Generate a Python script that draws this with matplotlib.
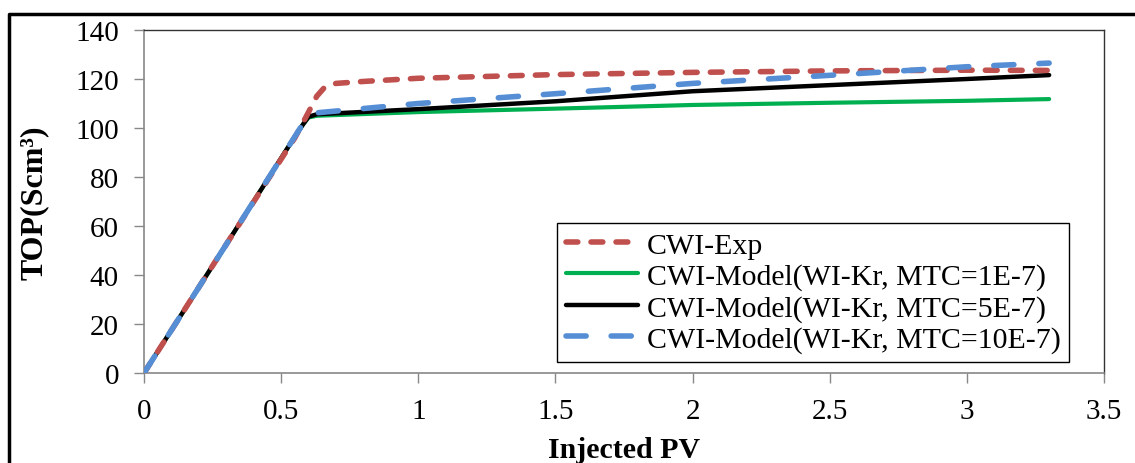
import matplotlib
matplotlib.use("Agg")
import matplotlib.pyplot as plt
from matplotlib.lines import Line2D
from matplotlib.ticker import FuncFormatter

plt.rcParams['font.family'] = ['Liberation Serif', 'DejaVu Serif']
plt.rcParams['lines.scale_dashes'] = False

# Data
exp_x = [0, 0.30, 0.55, 0.60, 0.63, 0.66, 0.70, 0.80, 1.0, 1.5, 2.0, 2.5, 3.0, 3.3]
exp_y = [0, 52.5, 96, 106.5, 113, 116.8, 118.2, 119.0, 120.3, 121.8, 122.7, 123.3, 123.6, 123.5]

m1_x = [0, 0.30, 0.55, 0.58, 0.60, 0.63, 1.0, 1.5, 2.0, 2.5, 3.0, 3.3]
m1_y = [0, 52.5, 96.5, 101.5, 104.3, 105.0, 106.5, 107.9, 109.4, 110.3, 111.1, 111.8]

m5_x = [0, 0.30, 0.55, 0.58, 0.60, 0.63, 1.0, 1.5, 2.0, 2.5, 3.0, 3.3]
m5_y = [0, 52.5, 96.5, 101.5, 104.6, 105.6, 107.7, 110.9, 115.0, 117.5, 120.0, 121.6]

m10_x = [0, 0.30, 0.55, 0.58, 0.60, 0.63, 1.0, 1.5, 2.0, 2.5, 3.0, 3.3]
m10_y = [0, 52.5, 96.5, 101.8, 105.2, 106.2, 110.0, 114.0, 118.2, 121.5, 125.0, 126.5]

labels = ["CWI-Exp", "CWI-Model(WI-Kr, MTC=1E-7)",
          "CWI-Model(WI-Kr, MTC=5E-7)", "CWI-Model(WI-Kr, MTC=10E-7)"]
x_ticks = [0, 0.5, 1, 1.5, 2, 2.5, 3, 3.5]
y_ticks = [0, 20, 40, 60, 80, 100, 120, 140]

W, H = 1135, 464
fig = plt.figure(figsize=(W / 100, H / 100), dpi=100)
ax = fig.add_axes([144 / W, 1 - 374 / H, (1104 - 144) / W, (374 - 31) / H])

ax.plot(m1_x, m1_y, color='#00B050', lw=3.0, solid_capstyle='round', label=labels[1], zorder=2)
ax.plot(m5_x, m5_y, color='black', lw=3.2, solid_capstyle='round', label=labels[2], zorder=3)
ax.plot(exp_x, exp_y, color='#C0504D', lw=4.0, dashes=(8.5, 9.5), dash_capstyle='round',
        label=labels[0], zorder=4)
ax.plot(m10_x, m10_y, color='#558ED5', lw=4.0, dashes=(14.5, 18), dash_capstyle='round',
        label=labels[3], zorder=5)

ax.set_xlim(0, 3.5)
ax.set_ylim(0, 140)
ax.set_xticks(x_ticks)
ax.set_yticks(y_ticks)
ax.xaxis.set_major_formatter(FuncFormatter(lambda v, p: f"{v:g}"))
ax.tick_params(axis='both', direction='out', length=7, width=1, color='#888888',
               labelsize=21)
ax.tick_params(axis='y', pad=11)
ax.tick_params(axis='x', pad=11)
for s in ['left', 'bottom']:
    ax.spines[s].set_color('#888888')
    ax.spines[s].set_linewidth(1.2)
for s in ['top', 'right']:
    ax.spines[s].set_color('#333333')
    ax.spines[s].set_linewidth(1.0)

ax.set_xlabel("Injected PV", fontsize=21.5, fontweight='bold', labelpad=9)
ax.set_ylabel("TOP(Scm³)", fontsize=23, fontweight='bold', labelpad=19)

h, l = ax.get_legend_handles_labels()
order = [l.index(t) for t in labels]
leg = ax.legend([h[i] for i in order], [l[i] for i in order],
                loc='upper left', bbox_to_anchor=(557 / W, 1 - 224 / H),
                bbox_transform=fig.transFigure, fontsize=21.5, frameon=True,
                fancybox=False, edgecolor='black', framealpha=1,
                handlelength=2.4, handletextpad=0.3, labelspacing=0.14,
                borderpad=0.3, borderaxespad=0)
leg.get_frame().set_linewidth(1.0)

# Outer figure border (left and top)
fig.add_artist(Line2D([8.5 / W, 8.5 / W, 1], [0, 1 - 14.5 / H, 1 - 14.5 / H],
                      transform=fig.transFigure, color='black', lw=2.5))

fig.savefig("out.png", dpi=100)
